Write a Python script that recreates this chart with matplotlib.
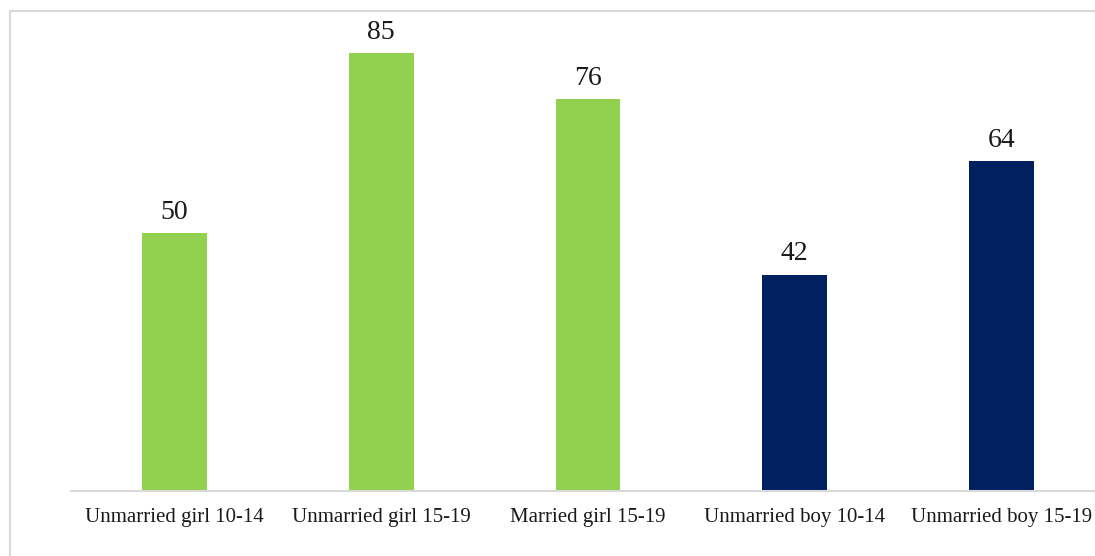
import matplotlib
matplotlib.use("Agg")
import matplotlib.pyplot as plt
from matplotlib.patches import Rectangle

categories = ["Unmarried girl 10-14", "Unmarried girl 15-19", "Married girl 15-19",
              "Unmarried boy 10-14", "Unmarried boy 15-19"]
values = [50, 85, 76, 42, 64]
bar_colors = ["#92D050", "#92D050", "#92D050", "#002060", "#002060"]

plt.rcParams['font.family'] = ['Liberation Serif', 'DejaVu Serif']

fig = plt.figure(figsize=(10.95, 5.56), dpi=100)
# light outer frame, cropped on the right and bottom like the source
fig.patches.append(Rectangle((9.5 / 1095, -0.1), 1.2, 1.1 - 11 / 556,
                             transform=fig.transFigure, fill=False,
                             edgecolor="#d9d9d9", linewidth=1.5))

ax = fig.add_axes([71 / 1095, 65 / 556, 1034 / 1095, 463.8 / 556])
x = range(len(categories))
bars = ax.bar(x, values, width=0.314, color=bar_colors)
ax.set_xlim(-0.5, len(categories) - 0.5)
ax.set_ylim(0, 90)

for b, v in zip(bars, values):
    ax.annotate(str(v), (b.get_x() + b.get_width() / 2, v), xytext=(0, 6),
                textcoords="offset points", ha="center", va="bottom",
                fontsize=20, color="#1a1a1a")

ax.set_xticks(list(x))
ax.set_xticklabels(categories, fontsize=15, color="#1a1a1a")
ax.tick_params(axis="x", length=0, pad=12.5)
ax.set_yticks([])
for s in ["top", "right", "left"]:
    ax.spines[s].set_visible(False)
ax.spines["bottom"].set_color("#d9d9d9")
ax.spines["bottom"].set_linewidth(1.5)
ax.patch.set_alpha(0)

fig.savefig("out.png", dpi=100)
